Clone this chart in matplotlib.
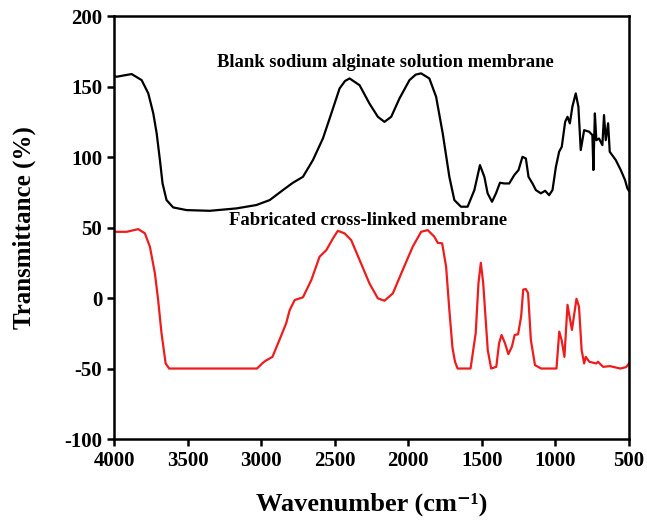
import matplotlib
matplotlib.use("Agg")
import matplotlib.pyplot as plt

plt.rcParams['font.family'] = ['Liberation Serif', 'DejaVu Serif']
plt.rcParams['font.weight'] = 'bold'
plt.rcParams['axes.unicode_minus'] = False

# blank sodium alginate membrane (black)
blank_wn = [4000, 3982, 3930, 3880, 3812, 3767, 3733, 3710, 3688, 3670, 3643, 3598,
            3507, 3349, 3168, 3032, 2942, 2852, 2784, 2716, 2648, 2580, 2523, 2467,
            2430, 2399, 2331, 2264, 2207, 2162, 2116, 2060, 1992, 1950, 1913, 1857,
            1811, 1766, 1721, 1687, 1642, 1597, 1551, 1513, 1483, 1461, 1431,
            1404, 1377, 1348, 1314, 1280, 1251, 1224, 1201, 1183, 1156, 1133, 1099,
            1070, 1043, 1020, 997, 975, 957, 934, 918, 902, 885, 862, 844, 828, 805,
            771, 749, 742, 732, 722, 704, 681, 670, 658, 642, 631, 590, 556, 527,
            511, 500]
blank_t = [157.5, 157, 158, 158.9, 154.6, 145.2, 131, 116.8, 97.9, 81.3, 69.5, 64.3,
           62.4, 61.9, 63.6, 66, 69.5, 76.6, 81.8, 86, 97.9, 113.3, 131, 148.7,
           154, 155.8, 151, 138, 128.6, 125, 128.6, 141.6, 154.6, 158.5, 159.4, 155.8,
           142.8, 116.8, 86, 69.5, 64.8, 64.8, 76.6, 94.3, 86, 74.3, 68.3,
           74.3, 81.8, 81.3, 81.3, 87.2, 90.8, 100.2, 99, 86, 81.3, 76.6, 74.3,
           76.1, 73, 76.6, 93, 103.8, 107.3, 125, 128.6, 123.9, 135.7, 145.2, 135.7,
           105, 119.1, 118, 115.6, 90.8, 131, 112, 113.2, 108.5, 129.8, 112, 124,
           103.8, 97.9, 90.8, 83.7, 77.8, 76]

# fabricated cross-linked membrane (red)
cross_wn = [4000, 3982, 3914, 3835, 3790, 3756, 3722, 3700, 3677, 3649, 3625, 3300,
            3028, 2993, 2970, 2923, 2876, 2830, 2806, 2772, 2716, 2659, 2603, 2557,
            2512, 2479, 2433, 2388, 2331, 2264, 2207, 2162, 2105, 2038, 1970, 1913,
            1868, 1823, 1800, 1770, 1743, 1721, 1700, 1683, 1665, 1577, 1542, 1523,
            1507, 1491, 1460, 1437, 1402, 1383, 1366, 1343, 1320, 1296, 1277, 1254,
            1233, 1219, 1202, 1186, 1167, 1139, 1097, 993, 974, 958, 939, 918, 900,
            888, 857, 840, 822, 805, 794, 770, 723, 711, 676, 629, 559, 520, 500]
cross_t = [47.1, 47, 47, 48.9, 45.9, 36.4, 17.5, -1.4, -25, -46.4, -50, -50,
           -50, -46.4, -44.5, -41.7, -29.8, -17.9, -8.5, -1.4, 0.5, 12.8, 29.3, 34,
           42.3, 47.7, 45.9, 41.1, 27, 10.4, -0.2, -1.9, 3.3, 19.9, 36.4, 47,
           48.2, 43.5, 39.2, 38.8, 22.2, -8.5, -35, -45, -50, -50, -25, 10.7,
           25, 10.7, -36.9, -50, -48.8, -32, -26.2, -32, -39.8, -34.5, -26.2, -25.7,
           -13, 6, 6.4, 3.6, -29.8, -47.6, -50, -50, -23.8, -29.8, -41.7, -4.8, -15.5,
           -22.6, -0.5, -6, -36.9, -46.4, -41.7, -45.2, -46.4, -45.2, -48.8, -48.3, -50, -49, -46.4]

xticks = [4000, 3500, 3000, 2500, 2000, 1500, 1000, 500]
yticks = [-100, -50, 0, 50, 100, 150, 200]

fig = plt.figure(figsize=(6.47, 5.24), dpi=100)
ax = fig.add_axes([0.1762, 0.1622, 0.796, 0.807])

ax.plot(blank_wn, blank_t, color='black', lw=1.6)
ax.plot(cross_wn, cross_t, color='#ee1c1c', lw=1.6)

ax.text(2158, 167, 'Blank sodium alginate solution membrane', ha='center',
        va='center', fontsize=13.4, fontweight='bold')
ax.text(2274, 55, 'Fabricated cross-linked membrane', ha='center',
        va='center', fontsize=13.4, fontweight='bold')

ax.set_xlim(4000, 500)
ax.set_ylim(-100, 200)
ax.set_xticks(xticks)
ax.set_yticks(yticks)
ax.tick_params(direction='out', length=5, width=1.8, labelsize=15)
for sp in ax.spines.values():
    sp.set_linewidth(1.8)

ax.set_xlabel('Wavenumber (cm⁻¹)', fontsize=19, fontweight='bold', labelpad=16)
ax.set_ylabel('Transmittance (%)', fontsize=18, fontweight='bold', labelpad=20)

fig.savefig('out.png', dpi=100)
